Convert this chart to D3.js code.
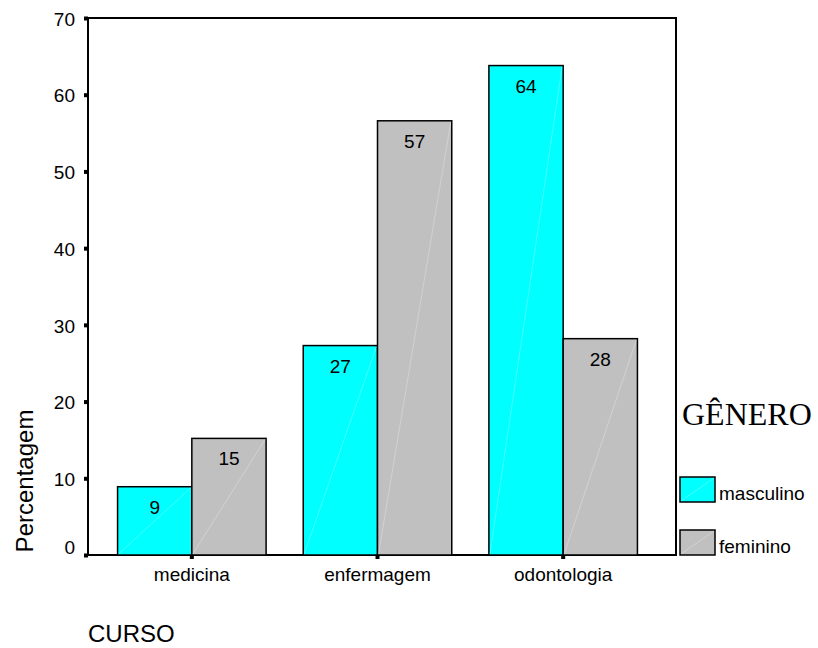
<!DOCTYPE html>
<html><head><meta charset="utf-8">
<script src="https://cdn.jsdelivr.net/npm/d3@7"></script>
<style>body{margin:0;background:#fff}svg{display:block}</style>
</head><body>
<script>
const categories = ["medicina", "enfermagem", "odontologia"];
const seriesNames = ["masculino", "feminino"];
const masculino = [8.9, 27.3, 63.8];
const feminino = [15.2, 56.6, 28.2];
const yTicks = [0, 10, 20, 30, 40, 50, 60, 70];
const colors = ["#00ffff", "#c0c0c0"];

(function(){
const W = 818, H = 648;
const svg = d3.select("body").append("svg").attr("width", W).attr("height", H);
const font = "Arial, 'Liberation Sans', sans-serif";

const pL = 88, pR = 676, pT = 18, pB = 555;
const y = d3.scaleLinear().domain([0, 70]).range([pB, pT]);
const x = d3.scaleBand().domain(categories).range([99, 656]).paddingInner(0).paddingOuter(0);
const gw = x.bandwidth() * 0.8;
const xs = d3.scaleBand().domain(seriesNames).range([0, gw]);

// frame
svg.append("rect").attr("x", pL).attr("y", pT).attr("width", pR - pL).attr("height", pB - pT)
  .attr("fill", "none").attr("stroke", "#000").attr("stroke-width", 2);

const data = categories.map((c, i) => ({c, vals: [masculino[i], feminino[i]]}));
const groups = svg.append("g").selectAll("g").data(data).join("g")
  .attr("transform", d => `translate(${x(d.c) + (x.bandwidth() - gw) / 2},0)`);
const bars = groups.selectAll("g").data(d => d.vals.map((v, j) => ({v, s: seriesNames[j], j}))).join("g");
bars.append("rect")
  .attr("x", d => xs(d.s)).attr("y", d => y(d.v))
  .attr("width", xs.bandwidth()).attr("height", d => pB - y(d.v))
  .attr("fill", d => colors[d.j]).attr("stroke", "#000").attr("stroke-width", 1.5);
bars.append("line")
  .attr("x1", d => xs(d.s) + 1).attr("y1", pB - 1)
  .attr("x2", d => xs(d.s) + xs.bandwidth() - 1).attr("y2", d => y(d.v) + 1)
  .attr("stroke", "#fff").attr("stroke-opacity", 0.35).attr("stroke-width", 0.8);
bars.append("text")
  .attr("x", d => xs(d.s) + xs.bandwidth() / 2).attr("y", d => y(d.v) + 27)
  .attr("text-anchor", "middle").attr("font-family", font).attr("font-size", 19)
  .text(d => d3.format(".0f")(d.v));

// y axis
const yAxis = d3.axisLeft(y).tickValues(yTicks).tickSize(0).tickPadding(13);
const ya = svg.append("g").attr("transform", `translate(${pL},0)`).call(yAxis);
ya.select(".domain").remove();
ya.selectAll("text").attr("font-family", font).attr("font-size", 19).attr("fill", "#000")
  .attr("dy", d => d === 0 ? "-0.1em" : "0.38em");
ya.selectAll(".tick").append("rect").attr("x", -4).attr("y", -2).attr("width", 4).attr("height", 4).attr("fill", "#000");

// x axis
const xAxis = d3.axisBottom(x).tickSize(0).tickPadding(13);
const xa = svg.append("g").attr("transform", `translate(0,${pB})`).call(xAxis);
xa.select(".domain").remove();
xa.selectAll("text").attr("font-family", font).attr("font-size", 19).attr("fill", "#000");
xa.selectAll(".tick").append("rect").attr("x", -2).attr("y", 0).attr("width", 4).attr("height", 4).attr("fill", "#000");

// titles
svg.append("text").attr("transform", "translate(33,481) rotate(-90)").attr("text-anchor", "middle")
  .attr("font-family", font).attr("font-size", 24).text("Percentagem");
svg.append("text").attr("x", 88).attr("y", 642).attr("font-family", font).attr("font-size", 24).text("CURSO");

// legend
svg.append("text").attr("x", 682).attr("y", 425).attr("font-family", "'Liberation Serif', 'Times New Roman', serif")
  .attr("font-size", 32).text("GÊNERO");
const lg = svg.append("g").selectAll("g").data(seriesNames).join("g")
  .attr("transform", (d, i) => `translate(680,${477 + i * 53})`);
lg.append("rect").attr("width", 35).attr("height", 25).attr("fill", (d, i) => colors[i]).attr("stroke", "#000").attr("stroke-width", 1.5);
lg.append("line").attr("x1", 1).attr("y1", 24).attr("x2", 34).attr("y2", 1).attr("stroke", "#fff").attr("stroke-opacity", 0.35).attr("stroke-width", 0.8);
lg.append("text").attr("x", 39).attr("y", 23).attr("font-family", font).attr("font-size", 19).text(d => d);
})();
</script>
</body></html>
